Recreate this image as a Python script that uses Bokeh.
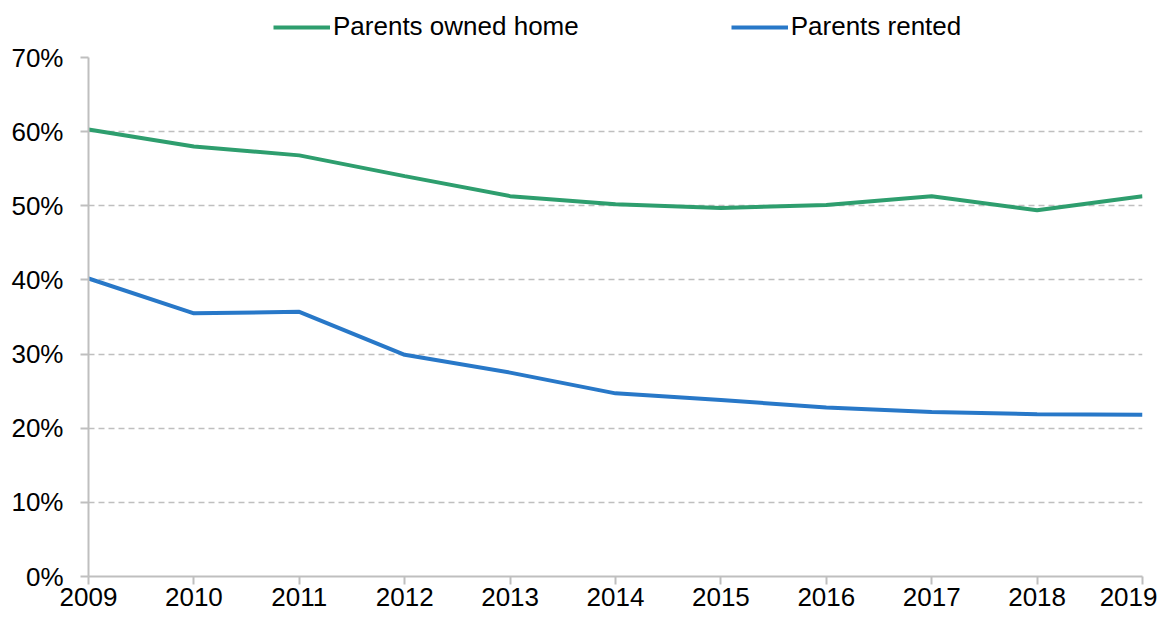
from bokeh.plotting import figure
from bokeh.layouts import column
from bokeh.models import ColumnDataSource, Legend, LegendItem, NumeralTickFormatter, FixedTicker, Range1d
from bokeh.embed import file_html
from bokeh.resources import INLINE

years = [2009, 2010, 2011, 2012, 2013, 2014, 2015, 2016, 2017, 2018, 2019]
owned = [0.603, 0.580, 0.568, 0.540, 0.513, 0.502, 0.497, 0.501, 0.513, 0.494, 0.513]
rented = [0.402, 0.355, 0.357, 0.299, 0.275, 0.247, 0.238, 0.228, 0.222, 0.219, 0.218]
y_ticks = [0, 0.1, 0.2, 0.3, 0.4, 0.5, 0.6, 0.7]
series_names = ["Parents owned home", "Parents rented"]

FONT = "Liberation Sans"
GREEN = "#2e9e6e"
BLUE = "#2878c8"
GRAY = "#bfbfbf"

src = ColumnDataSource(dict(year=years, owned=owned, rented=rented))

# ---- main chart ----
p = figure(width=1157, height=568, output_backend="svg", toolbar_location=None,
           x_range=Range1d(2009, 2019), y_range=Range1d(0, 0.7),
           min_border_left=88, min_border_right=15, min_border_top=15, min_border_bottom=34)
p.outline_line_color = None

r1 = p.line("year", "owned", source=src, line_color=GREEN, line_width=4)
r2 = p.line("year", "rented", source=src, line_color=BLUE, line_width=4)

p.xaxis.ticker = FixedTicker(ticks=years)
p.yaxis.ticker = FixedTicker(ticks=y_ticks)
p.yaxis.formatter = NumeralTickFormatter(format="0%")

for ax in (p.xaxis[0], p.yaxis[0]):
    ax.axis_line_color = GRAY
    ax.axis_line_width = 2
    ax.major_tick_line_color = GRAY
    ax.major_tick_line_width = 2
    ax.major_tick_out = 8
    ax.major_tick_in = 0
    ax.minor_tick_line_color = None
    ax.major_label_text_font = FONT
    ax.major_label_text_font_size = "26px"
    ax.major_label_text_color = "#000000"
p.xaxis.major_label_standoff = 3
p.yaxis.major_label_standoff = 17

p.xgrid.grid_line_color = None
p.ygrid.grid_line_color = GRAY
p.ygrid.grid_line_dash = "6 4"
p.ygrid.grid_line_width = 1.5

# ---- legend strip (same series, drawn out of view; only the legend shows) ----
lg = figure(width=1157, height=42, output_backend="svg", toolbar_location=None,
            x_range=Range1d(2009, 2019), y_range=Range1d(5, 6),
            min_border=0, x_axis_type=None, y_axis_type=None)
lg.outline_line_color = None
lg.xgrid.grid_line_color = None
lg.ygrid.grid_line_color = None
l1 = lg.line("year", "owned", source=src, line_color=GREEN, line_width=4)
l2 = lg.line("year", "rented", source=src, line_color=BLUE, line_width=4)

legend = Legend(items=[LegendItem(label=series_names[0], renderers=[l1]),
                       LegendItem(label=series_names[1], renderers=[l2])],
                orientation="horizontal", location=(185, 0),
                label_text_font=FONT, label_text_font_size="26px", label_text_color="#000000",
                glyph_width=57, label_standoff=3, spacing=152,
                padding=0, margin=0, border_line_color=None, background_fill_alpha=0)
lg.add_layout(legend, "center")

layout = column(lg, p, spacing=0)
open("out.html", "w").write(file_html(layout, INLINE))
